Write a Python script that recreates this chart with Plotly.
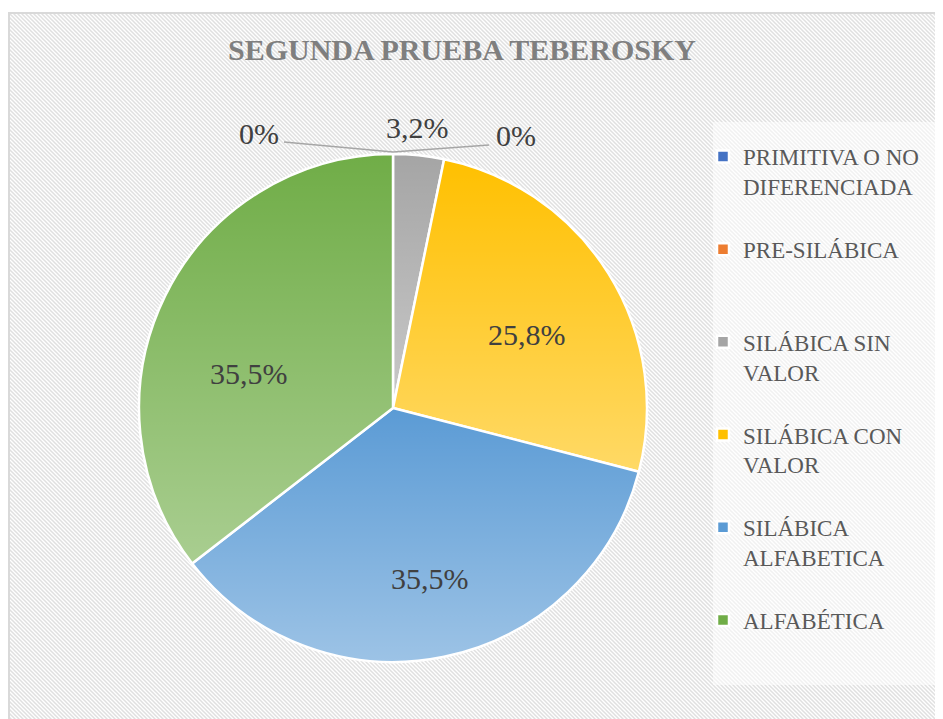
import base64, math
import plotly.graph_objects as go

# ---------------- data ----------------
categories = ["PRIMITIVA O NO<br>DIFERENCIADA", "PRE-SILÁBICA", "SILÁBICA SIN<br>VALOR",
              "SILÁBICA CON<br>VALOR", "SILÁBICA<br>ALFABETICA", "ALFABÉTICA"]
counts = [0, 0, 1, 8, 11, 11]
title_text = "SEGUNDA PRUEBA TEBEROSKY"

# ---------------- style / layout ----------------
PAGE_W, PAGE_H = 943, 719
OFF = 8                           # browser body margin
W, H = PAGE_W - OFF, PAGE_H - OFF  # figure size
colors = ["#4472c4", "#ed7d31", "#a5a5a5", "#ffc000", "#5b9bd5", "#70ad47"]
CX, CY, R = 393, 408, 254          # pie centre / radius in page px
# label placement (page px) for each category's percentage
label_pos = [(259, 133), (516, 135), (417, 127), (527, 335), (430, 578), (249, 373)]
SERIF = "Liberation Serif, Times New Roman, serif"

def px(x):
    return (x - OFF) / W

def py(y):
    return 1 - (y - OFF) / H

total = sum(counts)

def fmt(v):
    p = v / total * 100
    if p == 0:
        return "0%"
    return (f"{p:.1f}%").replace(".", ",")

# legend labels padded to equal height (3 lines)
leg_labels = []
for c in categories:
    n = c.count("<br>") + 1
    leg_labels.append(c + "<br> " * (3 - n))

# background: hatched chart area + legend panel (figure-local px)
bg_svg = f'''<svg xmlns="http://www.w3.org/2000/svg" width="{W}" height="{H}" viewBox="0 0 {W} {H}">
<defs><pattern id="p" width="4" height="4" patternUnits="userSpaceOnUse">
<rect width="4" height="4" fill="#ffffff"/>
<path d="M-1,-1 L5,5 M-1,3 L1,5 M3,-1 L5,1" stroke="#e0e0e0" stroke-width="1.5"/>
</pattern></defs>
<rect x="0" y="0" width="{W}" height="{H}" fill="#ffffff"/>
<rect x="{9-OFF}" y="{13-OFF}" width="{W+20}" height="{H+20}" fill="url(#p)" stroke="#d9d9d9" stroke-width="2"/>
<rect x="{713-OFF}" y="{122-OFF}" width="260" height="563" fill="#ffffff" fill-opacity="0.55"/>
</svg>'''

# gradient overlay per slice (Excel-like gradient), computed from the data
paths = []
acc = 0.0
for v in counts:
    a0 = acc / total * 2 * math.pi
    acc += v
    a1 = acc / total * 2 * math.pi
    if v == 0:
        continue
    x0, y0 = R + R * math.sin(a0), R - R * math.cos(a0)
    x1, y1 = R + R * math.sin(a1), R - R * math.cos(a1)
    large = 1 if (a1 - a0) > math.pi else 0
    paths.append(f'<path d="M{R},{R} L{x0:.2f},{y0:.2f} A{R},{R} 0 {large} 1 {x1:.2f},{y1:.2f} Z" fill="url(#g)"/>')
ov_svg = f'''<svg xmlns="http://www.w3.org/2000/svg" width="{2*R}" height="{2*R}" viewBox="0 0 {2*R} {2*R}">
<defs><linearGradient id="g" x1="0" y1="0" x2="0" y2="1">
<stop offset="0" stop-color="#ffffff" stop-opacity="0"/>
<stop offset="1" stop-color="#ffffff" stop-opacity="0.4"/></linearGradient></defs>
{''.join(paths)}
</svg>'''

def uri(s):
    return "data:image/svg+xml;base64," + base64.b64encode(s.encode("utf-8")).decode()

fig = go.Figure(go.Pie(
    labels=leg_labels,
    values=counts,
    sort=False,
    direction="clockwise",
    rotation=0,
    textinfo="none",
    marker=dict(colors=colors, line=dict(color="#ffffff", width=2.5)),
    domain=dict(x=[px(CX - R), px(CX + R)], y=[py(CY + R), py(CY - R)]),
    hovertemplate="%{label}: %{percent}<extra></extra>",
))

annotations = [dict(text=f"<b>{title_text}</b>", x=px(462), y=py(50), xref="paper", yref="paper",
                    xanchor="center", yanchor="middle", showarrow=False,
                    font=dict(family=SERIF, size=30, color="#7f7f7f"))]
for v, (lx, ly) in zip(counts, label_pos):
    annotations.append(dict(text=fmt(v), x=px(lx), y=py(ly), xref="paper", yref="paper",
                            xanchor="center", yanchor="middle", showarrow=False,
                            font=dict(family=SERIF, size=30, color="#404040")))

shapes = [
    dict(type="line", xref="paper", yref="paper", x0=px(284), y0=py(142), x1=px(393), y1=py(152),
         line=dict(color="#a6a6a6", width=1.6)),
    dict(type="line", xref="paper", yref="paper", x0=px(393), y0=py(152), x1=px(489), y1=py(145),
         line=dict(color="#a6a6a6", width=1.6)),
]

fig.update_layout(
    width=W, height=H,
    margin=dict(l=0, r=0, t=0, b=0),
    paper_bgcolor="#ffffff",
    plot_bgcolor="rgba(0,0,0,0)",
    showlegend=True,
    legend=dict(x=px(703), y=py(135), xanchor="left", yanchor="top",
                bgcolor="rgba(0,0,0,0)", valign="top",
                font=dict(family=SERIF, size=23, color="#595959")),
    annotations=annotations,
    shapes=shapes,
    images=[
        dict(source=uri(bg_svg), xref="paper", yref="paper", x=0, y=1, sizex=1, sizey=1,
             xanchor="left", yanchor="top", sizing="stretch", layer="below"),
        dict(source=uri(ov_svg), xref="paper", yref="paper", x=px(CX - R), y=py(CY - R),
             sizex=2 * R / W, sizey=2 * R / H, xanchor="left", yanchor="top",
             sizing="stretch", layer="above"),
    ],
)

fig.write_html("out.html")
